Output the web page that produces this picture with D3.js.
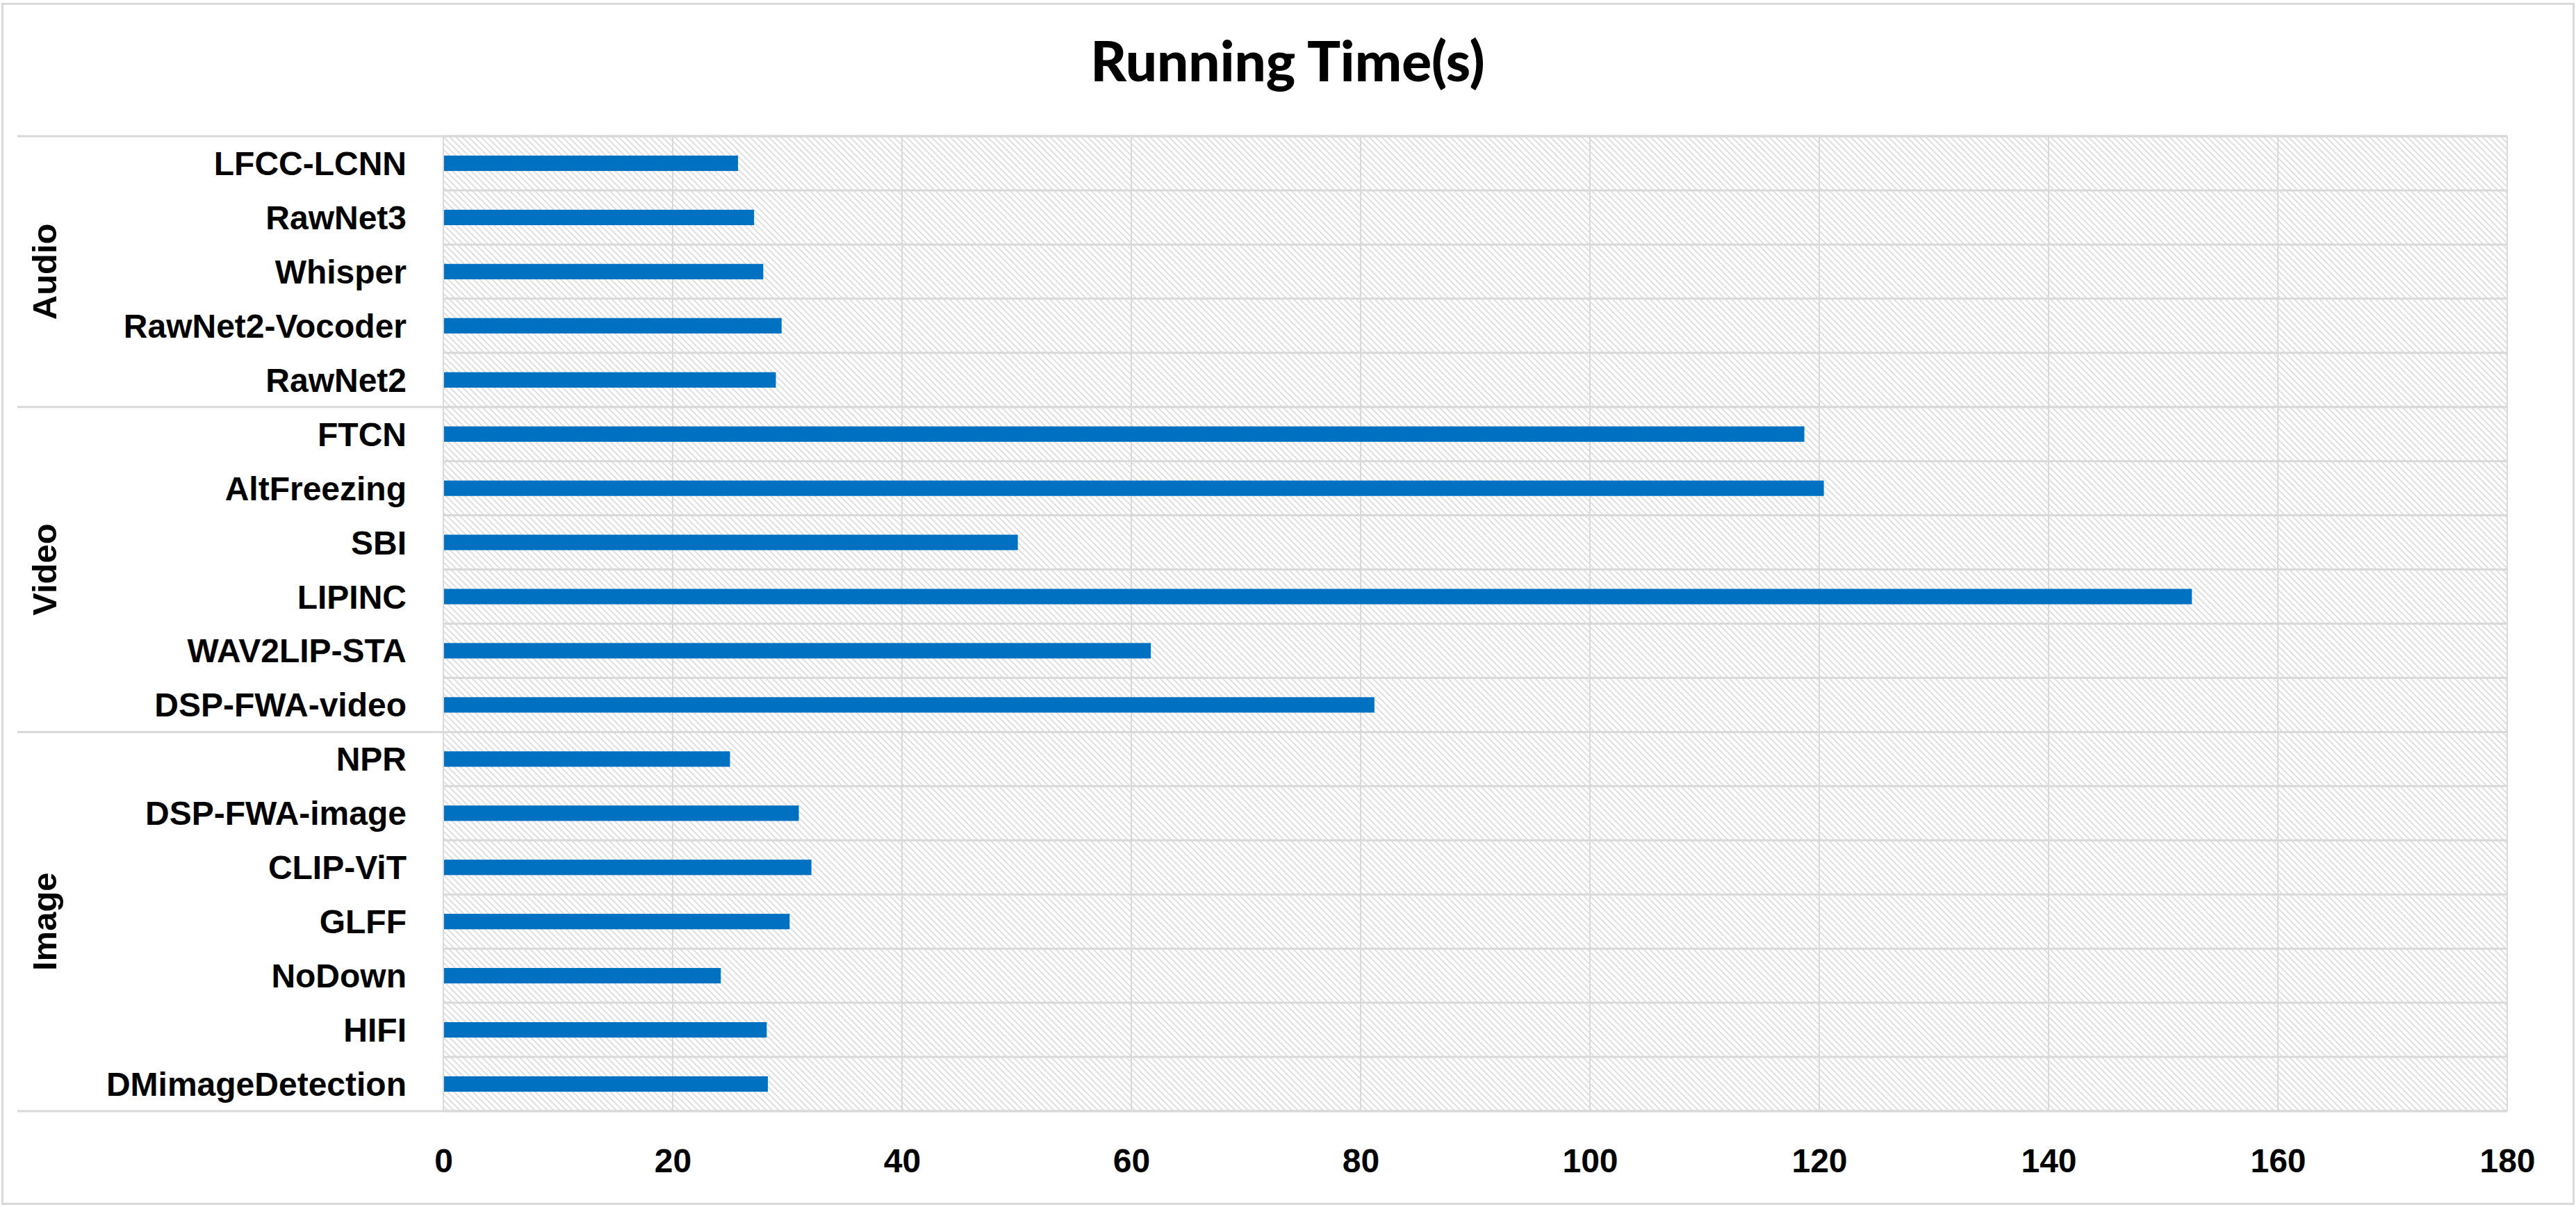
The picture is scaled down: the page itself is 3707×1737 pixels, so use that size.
<!DOCTYPE html>
<html>
<head>
<meta charset="utf-8">
<script src="https://cdn.jsdelivr.net/npm/d3@7"></script>
<style>
  html, body { margin: 0; padding: 0; background: #fff; }
  svg { display: block; }
</style>
</head>
<body>
<div id="chart"></div>
<script>
// ---- Data (top to bottom) ----
const categories = [
  "LFCC-LCNN", "RawNet3", "Whisper", "RawNet2-Vocoder", "RawNet2",
  "FTCN", "AltFreezing", "SBI", "LIPINC", "WAV2LIP-STA", "DSP-FWA-video",
  "NPR", "DSP-FWA-image", "CLIP-ViT", "GLFF", "NoDown", "HIFI", "DMimageDetection"
];
const runningTime = [
  25.7, 27.1, 27.9, 29.5, 29.0,
  118.7, 120.4, 50.1, 152.5, 61.7, 81.2,
  25.0, 31.0, 32.1, 30.2, 24.2, 28.2, 28.3
];
const groupNames = ["Audio", "Video", "Image"];
const groupSizes = [5, 6, 7];
const xTicks = [0, 20, 40, 60, 80, 100, 120, 140, 160, 180];
const titleText = "Running Time(s)";

// ---- Layout ----
const W = 3707, H = 1737;
const plot = { left: 638, right: 3608, top: 196, bottom: 1599 };
const FONT = "'Liberation Sans', Arial, sans-serif";
const GRID = "#d9d9d9";

const svg = d3.select("#chart").append("svg")
  .attr("width", W).attr("height", H);

// hatch pattern
const defs = svg.append("defs");
const pat = defs.append("pattern")
  .attr("id", "hatch").attr("patternUnits", "userSpaceOnUse")
  .attr("width", 9).attr("height", 9);
pat.append("rect").attr("width", 9).attr("height", 9).attr("fill", "#fff");
pat.append("path")
  .attr("d", "M0,0 L9,9 M-2,7 L2,11 M7,-2 L11,2")
  .attr("stroke", "#dcdcdc").attr("stroke-width", 1.8).attr("fill", "none");

// outer border
svg.append("rect")
  .attr("x", 3.5).attr("y", 5.5).attr("width", 3700).attr("height", 1727)
  .attr("fill", "#fff").attr("stroke", GRID).attr("stroke-width", 3);

// title
svg.append("text")
  .attr("x", 1853).attr("y", 117)
  .attr("text-anchor", "middle")
  .attr("font-family", "Lato, 'Open Sans', sans-serif")
  .attr("font-weight", 900)
  .attr("font-size", 80)
  .attr("fill", "#000")
  .text(titleText);

// scales
const x = d3.scaleLinear().domain([0, 180]).range([plot.left, plot.right]);
const y = d3.scaleBand().domain(categories).range([plot.top, plot.bottom]).padding(0);

// plot background
svg.append("rect")
  .attr("x", plot.left).attr("y", plot.top)
  .attr("width", plot.right - plot.left).attr("height", plot.bottom - plot.top)
  .attr("fill", "url(#hatch)");

// vertical gridlines
svg.append("g").selectAll("line").data(xTicks).join("line")
  .attr("x1", d => x(d)).attr("x2", d => x(d))
  .attr("y1", plot.top).attr("y2", plot.bottom)
  .attr("stroke", GRID).attr("stroke-width", 2);

// horizontal category lines
const bounds = categories.map(c => y(c)).concat([plot.bottom]);
svg.append("g").selectAll("line").data(bounds).join("line")
  .attr("x1", plot.left).attr("x2", plot.right)
  .attr("y1", d => d).attr("y2", d => d)
  .attr("stroke", GRID).attr("stroke-width", 3);

// group boundaries (extend to left)
const groupEdges = [0];
groupSizes.forEach((s, i) => groupEdges.push(groupEdges[i] + s));
svg.append("g").selectAll("line").data(groupEdges).join("line")
  .attr("x1", 25).attr("x2", plot.right)
  .attr("y1", d => d < categories.length ? y(categories[d]) : plot.bottom)
  .attr("y2", d => d < categories.length ? y(categories[d]) : plot.bottom)
  .attr("stroke", GRID).attr("stroke-width", 3);

// bars
const barH = y.bandwidth() * 0.285;
svg.append("g").selectAll("rect").data(categories).join("rect")
  .attr("x", x(0) + 1)
  .attr("y", d => y(d) + (y.bandwidth() - barH) / 2)
  .attr("width", (d, i) => x(runningTime[i]) - x(0) - 1)
  .attr("height", barH)
  .attr("fill", "#0070C0");

// category labels
svg.append("g").selectAll("text").data(categories).join("text")
  .attr("x", 585)
  .attr("y", d => y(d) + y.bandwidth() / 2 + 17)
  .attr("text-anchor", "end")
  .attr("font-family", FONT).attr("font-weight", "bold").attr("font-size", 48)
  .attr("fill", "#000")
  .text(d => d);

// group labels
svg.append("g").selectAll("text").data(groupNames).join("text")
  .attr("transform", (d, i) => {
    const y0 = y(categories[groupEdges[i]]);
    const y1 = groupEdges[i + 1] < categories.length ? y(categories[groupEdges[i + 1]]) : plot.bottom;
    return `translate(${81},${(y0 + y1) / 2}) rotate(-90)`;
  })
  .attr("text-anchor", "middle")
  .attr("font-family", FONT).attr("font-weight", "bold").attr("font-size", 49)
  .attr("fill", "#000")
  .text(d => d);

// x axis
const xAxis = d3.axisBottom(x).tickValues(xTicks).tickSize(0).tickPadding(54);
const gx = svg.append("g").attr("transform", `translate(0,${plot.bottom})`).call(xAxis);
gx.select(".domain").remove();
gx.selectAll("text")
  .attr("font-family", FONT).attr("font-weight", "bold").attr("font-size", 48)
  .attr("fill", "#000");
</script>
</body>
</html>
